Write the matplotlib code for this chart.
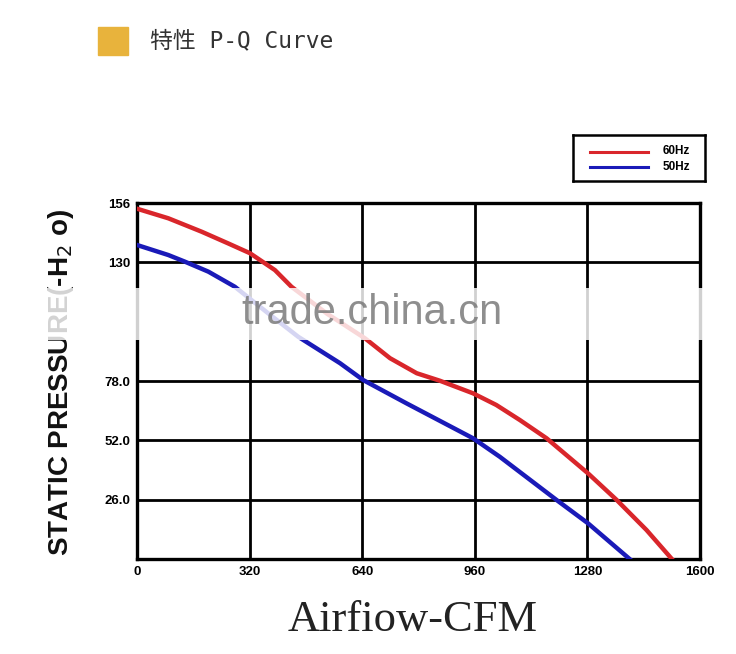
import matplotlib
matplotlib.use("Agg")
import matplotlib.pyplot as plt
from matplotlib.patches import Rectangle

# ---- data ----
x_60hz = [0, 89, 184, 259, 321, 392, 439, 540, 648, 719, 795, 861, 955, 1021, 1088, 1164, 1282, 1363, 1448, 1520]
y_60hz = [153.5, 149.3, 143.4, 138.3, 134.0, 126.6, 119.3, 107.5, 96.7, 88.0, 81.4, 78.1, 72.6, 67.5, 60.9, 52.9, 37.5, 25.9, 12.7, 0]
x_50hz = [0, 89, 136, 203, 278, 370, 458, 577, 643, 766, 955, 1031, 1192, 1282, 1400]
y_50hz = [137.6, 133.2, 130.3, 125.9, 119.3, 108.0, 97.4, 85.8, 78.4, 68.2, 52.9, 44.8, 25.9, 15.6, 0]
x_ticks = [0, 320, 640, 960, 1280, 1600]
y_ticks = [26, 52, 78, 130, 156]
y_tick_labels = ["26.0", "52.0", "78.0", "130", "156"]
series_labels = ["60Hz", "50Hz"]

fig = plt.figure(figsize=(7.36, 6.54), dpi=100)
ax = fig.add_axes([137/736, 1-559/654, (700-137)/736, (559-203)/654])
ax.set_xlim(0, 1600)
ax.set_ylim(0, 156)

ax.plot(x_60hz, y_60hz, color="#d9262b", lw=3.2, zorder=3, solid_joinstyle="round")
ax.plot(x_50hz, y_50hz, color="#1a1ab8", lw=3.2, zorder=3, solid_joinstyle="round")

ax.set_xticks(x_ticks)
ax.set_xticklabels([str(v) for v in x_ticks], fontsize=9.5, fontweight="bold",
                   family="Liberation Sans")
ax.set_yticks(y_ticks)
ax.set_yticklabels(y_tick_labels, fontsize=9.5, fontweight="bold", family="Liberation Sans")
ax.tick_params(length=0, pad=5)
ax.grid(True, color="black", lw=2.0, zorder=1)
for s in ax.spines.values():
    s.set_linewidth(2.4)
    s.set_color("black")
ax.set_axisbelow(True)

# legend box
leg = fig.add_axes([573/736, 1-181/654, (705-573)/736, (181-135)/654])
leg.set_xlim(0, 1); leg.set_ylim(0, 1)
leg.set_xticks([]); leg.set_yticks([])
for s in leg.spines.values():
    s.set_linewidth(1.8)
leg.plot([0.13, 0.57], [0.63, 0.63], color="#d9262b", lw=2.2)
leg.plot([0.13, 0.57], [0.30, 0.30], color="#1a1ab8", lw=2.2)
leg.text(0.68, 0.65, series_labels[0], fontsize=8.5, fontweight="bold", va="center",
         family="Liberation Sans")
leg.text(0.68, 0.30, series_labels[1], fontsize=8.5, fontweight="bold", va="center",
         family="Liberation Sans")

# header
fig.patches.append(Rectangle((98/736, 1-55/654), 30/736, 28/654, transform=fig.transFigure,
                             color="#e8b33c", zorder=2))
fig.text(150/736, 1-41/654, "特性 P-Q Curve", fontsize=16.5, va="center", color="#333333",
         family=["DejaVu Sans Mono", "Noto Sans CJK SC"])

# y label
fig.text(61/736, 1-382/654, "STATIC PRESSURE(-H$_2$ o)", rotation=90, fontsize=20,
         fontweight="bold", va="center", ha="center", family="Liberation Sans",
         color="#111111")

# x label
fig.text(413/736, 1-620/654, "Airfiow-CFM", fontsize=32, va="center", ha="center",
         family="Liberation Serif", color="#222222")

# watermark band
fig.patches.append(Rectangle((38/736, 1-340/654), 685/736, 52/654, transform=fig.transFigure,
                             facecolor="white", alpha=0.82, edgecolor="none", zorder=5))
fig.text(372/736, 1-313/654, "trade.china.cn", fontsize=30, va="center", ha="center",
         family="Liberation Sans", color="#7a7a7a", alpha=0.85, zorder=6)

fig.savefig("out.png", dpi=100)
